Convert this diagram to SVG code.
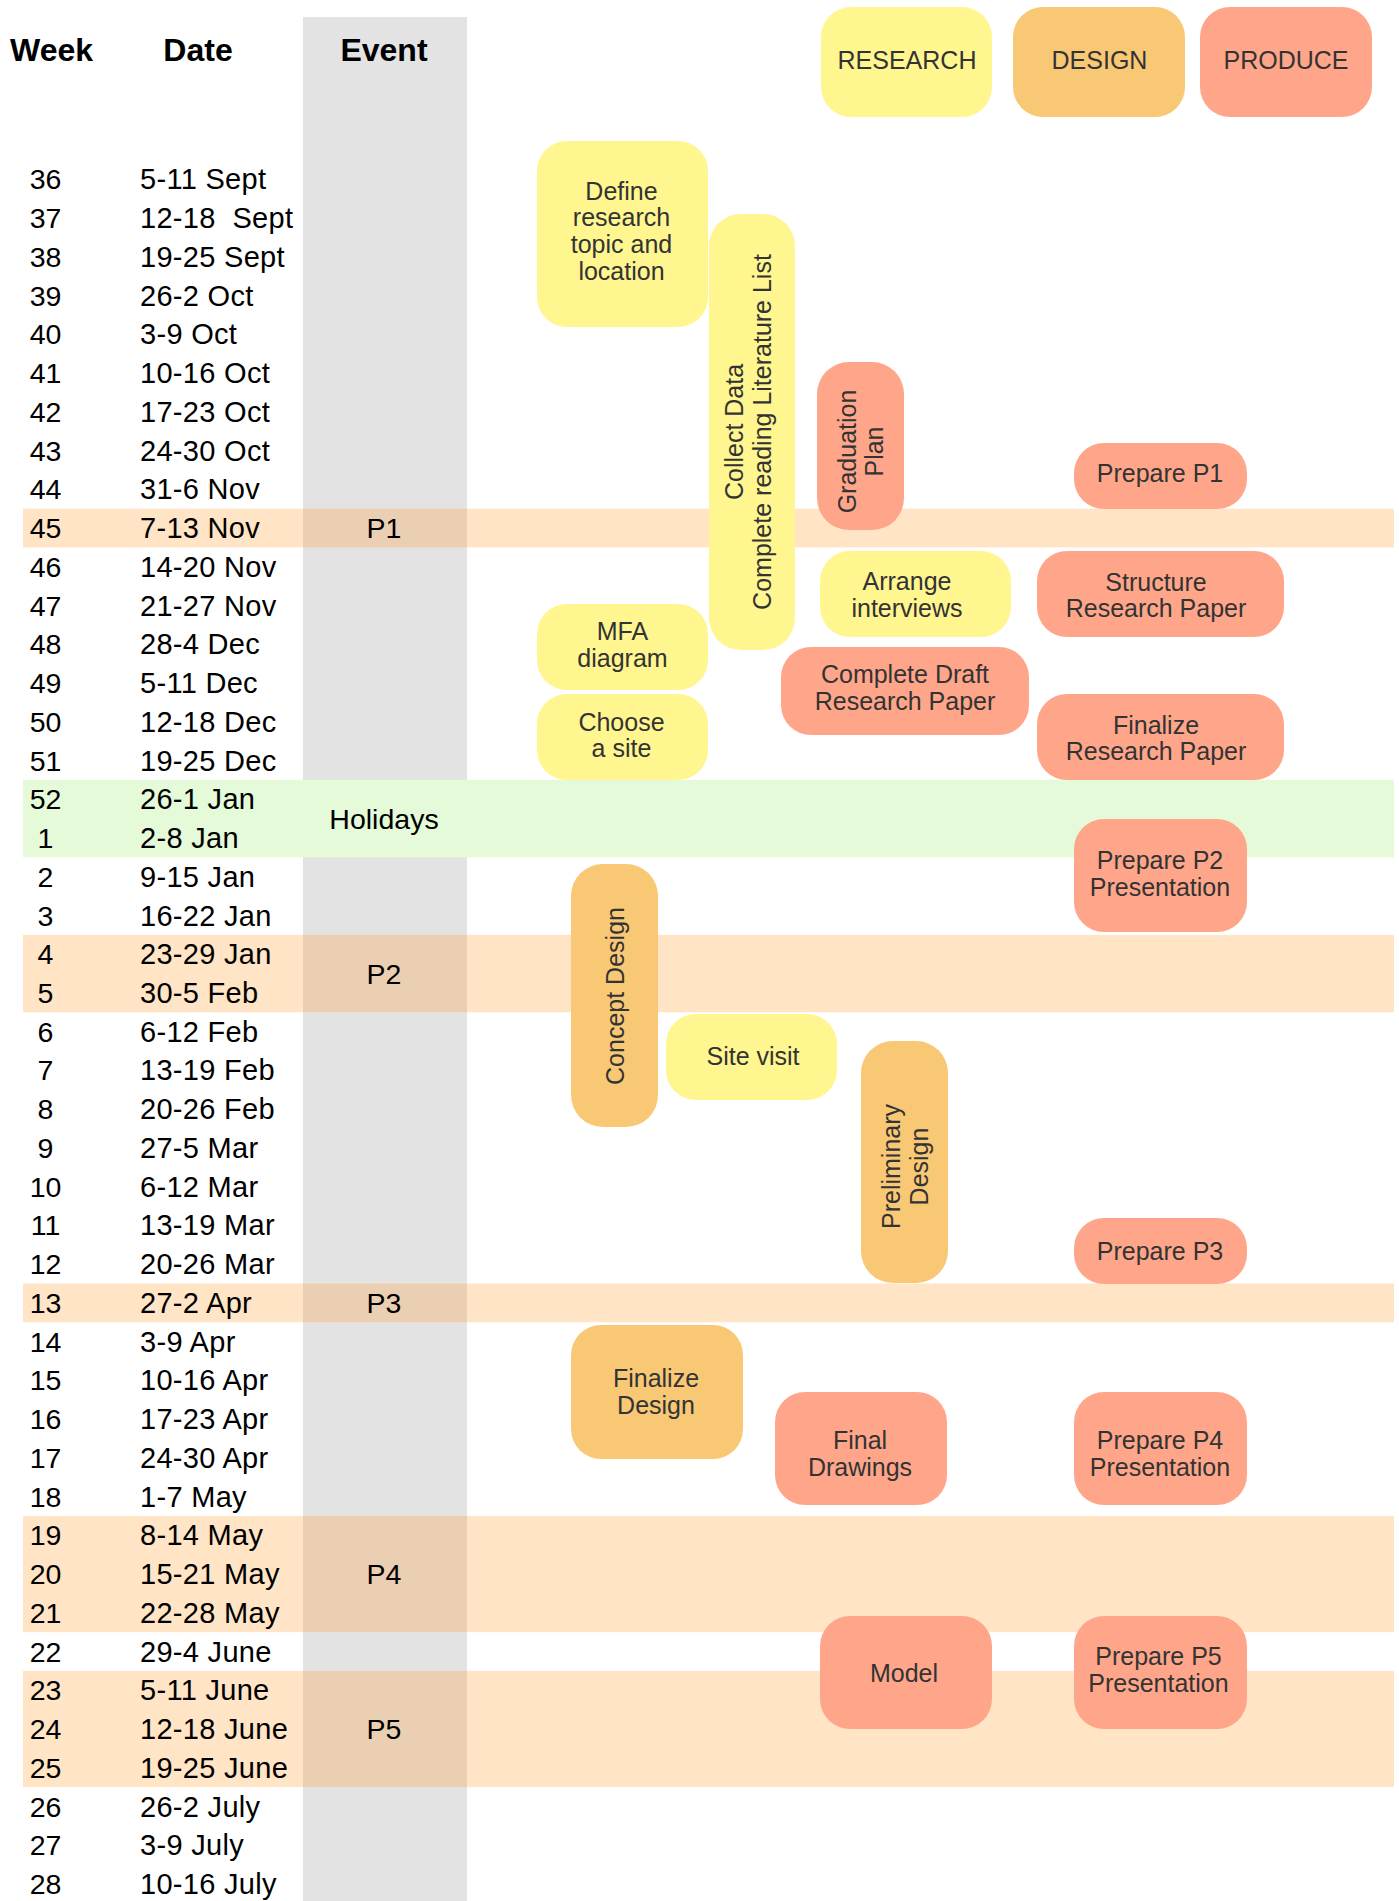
<svg xmlns="http://www.w3.org/2000/svg" width="1399" height="1901" viewBox="0 0 1399 1901">
<style>
.hd{font-family:"Liberation Sans",Arial,sans-serif;font-size:32px;font-weight:bold;fill:#000}
.wk{font-family:"Liberation Sans",Arial,sans-serif;font-size:28.5px;fill:#000;text-anchor:middle}
.dt{font-family:"Liberation Sans",Arial,sans-serif;font-size:29px;letter-spacing:0.3px;fill:#000}
.ev{font-family:"Liberation Sans",Arial,sans-serif;font-size:28.5px;fill:#000;text-anchor:middle}
.lb{font-family:"Liberation Sans",Arial,sans-serif;font-size:25px;fill:#333;text-anchor:middle}
.res{fill:#FFF68F}
.des{fill:#F9C875}
.pro{fill:#FFA68A}
.peach{fill:#FFE4C6}
.peachg{fill:#EBCFB2}
.green{fill:#E4FAD8}
</style>
<rect x="0" y="0" width="1399" height="1901" fill="#FFFFFF"/>
<g id="table-bg">
<rect x="303" y="17" width="164" height="1884" fill="#E3E3E3"/>
<rect class="peach" x="23" y="508.7" width="1371" height="38.74"/>
<rect class="peach" x="23" y="934.8" width="1371" height="77.48"/>
<rect class="peach" x="23" y="1283.5" width="1371" height="38.74"/>
<rect class="peach" x="23" y="1515.9" width="1371" height="116.22"/>
<rect class="peach" x="23" y="1670.9" width="1371" height="116.22"/>
<rect class="peachg" x="303" y="508.7" width="164" height="38.74"/>
<rect class="peachg" x="303" y="934.8" width="164" height="77.48"/>
<rect class="peachg" x="303" y="1283.5" width="164" height="38.74"/>
<rect class="peachg" x="303" y="1515.9" width="164" height="116.22"/>
<rect class="peachg" x="303" y="1670.9" width="164" height="116.22"/>
<rect class="green" x="23" y="779.8" width="1371" height="77.48"/>
</g>
<g id="headers">
<text class="hd" x="10" y="61">Week</text>
<text class="hd" x="198" y="61" text-anchor="middle">Date</text>
<text class="hd" x="384" y="61" text-anchor="middle">Event</text>
</g>
<g id="weeks">
<text class="wk" x="45.5" y="189.4">36</text>
<text class="wk" x="45.5" y="228.1">37</text>
<text class="wk" x="45.5" y="266.9">38</text>
<text class="wk" x="45.5" y="305.6">39</text>
<text class="wk" x="45.5" y="344.4">40</text>
<text class="wk" x="45.5" y="383.1">41</text>
<text class="wk" x="45.5" y="421.8">42</text>
<text class="wk" x="45.5" y="460.6">43</text>
<text class="wk" x="45.5" y="499.3">44</text>
<text class="wk" x="45.5" y="538.1">45</text>
<text class="wk" x="45.5" y="576.8">46</text>
<text class="wk" x="45.5" y="615.5">47</text>
<text class="wk" x="45.5" y="654.3">48</text>
<text class="wk" x="45.5" y="693.0">49</text>
<text class="wk" x="45.5" y="731.8">50</text>
<text class="wk" x="45.5" y="770.5">51</text>
<text class="wk" x="45.5" y="809.2">52</text>
<text class="wk" x="45.5" y="848.0">1</text>
<text class="wk" x="45.5" y="886.7">2</text>
<text class="wk" x="45.5" y="925.5">3</text>
<text class="wk" x="45.5" y="964.2">4</text>
<text class="wk" x="45.5" y="1002.9">5</text>
<text class="wk" x="45.5" y="1041.7">6</text>
<text class="wk" x="45.5" y="1080.4">7</text>
<text class="wk" x="45.5" y="1119.2">8</text>
<text class="wk" x="45.5" y="1157.9">9</text>
<text class="wk" x="45.5" y="1196.6">10</text>
<text class="wk" x="45.5" y="1235.4">11</text>
<text class="wk" x="45.5" y="1274.1">12</text>
<text class="wk" x="45.5" y="1312.9">13</text>
<text class="wk" x="45.5" y="1351.6">14</text>
<text class="wk" x="45.5" y="1390.3">15</text>
<text class="wk" x="45.5" y="1429.1">16</text>
<text class="wk" x="45.5" y="1467.8">17</text>
<text class="wk" x="45.5" y="1506.6">18</text>
<text class="wk" x="45.5" y="1545.3">19</text>
<text class="wk" x="45.5" y="1584.0">20</text>
<text class="wk" x="45.5" y="1622.8">21</text>
<text class="wk" x="45.5" y="1661.5">22</text>
<text class="wk" x="45.5" y="1700.3">23</text>
<text class="wk" x="45.5" y="1739.0">24</text>
<text class="wk" x="45.5" y="1777.7">25</text>
<text class="wk" x="45.5" y="1816.5">26</text>
<text class="wk" x="45.5" y="1855.2">27</text>
<text class="wk" x="45.5" y="1894.0">28</text>
</g>
<g id="dates">
<text class="dt" x="140" y="189.4">5-11 Sept</text>
<text class="dt" x="140" y="228.1" xml:space="preserve">12-18  Sept</text>
<text class="dt" x="140" y="266.9">19-25 Sept</text>
<text class="dt" x="140" y="305.6">26-2 Oct</text>
<text class="dt" x="140" y="344.4">3-9 Oct</text>
<text class="dt" x="140" y="383.1">10-16 Oct</text>
<text class="dt" x="140" y="421.8">17-23 Oct</text>
<text class="dt" x="140" y="460.6">24-30 Oct</text>
<text class="dt" x="140" y="499.3">31-6 Nov</text>
<text class="dt" x="140" y="538.1">7-13 Nov</text>
<text class="dt" x="140" y="576.8">14-20 Nov</text>
<text class="dt" x="140" y="615.5">21-27 Nov</text>
<text class="dt" x="140" y="654.3">28-4 Dec</text>
<text class="dt" x="140" y="693.0">5-11 Dec</text>
<text class="dt" x="140" y="731.8">12-18 Dec</text>
<text class="dt" x="140" y="770.5">19-25 Dec</text>
<text class="dt" x="140" y="809.2">26-1 Jan</text>
<text class="dt" x="140" y="848.0">2-8 Jan</text>
<text class="dt" x="140" y="886.7">9-15 Jan</text>
<text class="dt" x="140" y="925.5">16-22 Jan</text>
<text class="dt" x="140" y="964.2">23-29 Jan</text>
<text class="dt" x="140" y="1002.9">30-5 Feb</text>
<text class="dt" x="140" y="1041.7">6-12 Feb</text>
<text class="dt" x="140" y="1080.4">13-19 Feb</text>
<text class="dt" x="140" y="1119.2">20-26 Feb</text>
<text class="dt" x="140" y="1157.9">27-5 Mar</text>
<text class="dt" x="140" y="1196.6">6-12 Mar</text>
<text class="dt" x="140" y="1235.4">13-19 Mar</text>
<text class="dt" x="140" y="1274.1">20-26 Mar</text>
<text class="dt" x="140" y="1312.9">27-2 Apr</text>
<text class="dt" x="140" y="1351.6">3-9 Apr</text>
<text class="dt" x="140" y="1390.3">10-16 Apr</text>
<text class="dt" x="140" y="1429.1">17-23 Apr</text>
<text class="dt" x="140" y="1467.8">24-30 Apr</text>
<text class="dt" x="140" y="1506.6">1-7 May</text>
<text class="dt" x="140" y="1545.3">8-14 May</text>
<text class="dt" x="140" y="1584.0">15-21 May</text>
<text class="dt" x="140" y="1622.8">22-28 May</text>
<text class="dt" x="140" y="1661.5">29-4 June</text>
<text class="dt" x="140" y="1700.3">5-11 June</text>
<text class="dt" x="140" y="1739.0">12-18 June</text>
<text class="dt" x="140" y="1777.7">19-25 June</text>
<text class="dt" x="140" y="1816.5">26-2 July</text>
<text class="dt" x="140" y="1855.2">3-9 July</text>
<text class="dt" x="140" y="1894.0">10-16 July</text>
</g>
<g id="events">
<text class="ev" x="384" y="538.1">P1</text>
<text class="ev" x="384" y="828.5">Holidays</text>
<text class="ev" x="384" y="983.5">P2</text>
<text class="ev" x="384" y="1312.9">P3</text>
<text class="ev" x="384" y="1584.0">P4</text>
<text class="ev" x="384" y="1739.0">P5</text>
</g>
<g id="connectors"></g>
<g id="legend-research"><rect class="res" x="821" y="7" width="171" height="110" rx="30"/><text class="lb" x="907" y="68.6">RESEARCH</text></g>
<g id="legend-design"><rect class="des" x="1013" y="7" width="172" height="110" rx="30"/><text class="lb" x="1099.5" y="68.6">DESIGN</text></g>
<g id="legend-produce"><rect class="pro" x="1200" y="7" width="172" height="110" rx="30"/><text class="lb" x="1286" y="68.6">PRODUCE</text></g>
<g id="define-research"><rect class="res" x="537" y="141" width="171" height="186" rx="30"/><text class="lb" x="621.5" y="199.5"><tspan x="621.5">Define</tspan><tspan x="621.5" dy="26.7">research</tspan><tspan x="621.5" dy="26.7">topic and</tspan><tspan x="621.5" dy="26.7">location</tspan></text></g>
<g id="collect-data"><rect class="res" x="709" y="214" width="86" height="436" rx="32"/><text class="lb" transform="translate(752 432) rotate(-90)" x="0" y="-9"><tspan x="0">Collect Data</tspan><tspan x="0" dy="28">Complete reading Literature List</tspan></text></g>
<g id="graduation-plan"><rect class="pro" x="817" y="362" width="87" height="168" rx="32"/><text class="lb" transform="translate(860.5 451.5) rotate(-90)" x="0" y="-4.5"><tspan x="0">Graduation</tspan><tspan x="0" dy="26.7">Plan</tspan></text></g>
<g id="prepare-p1"><rect class="pro" x="1074" y="443" width="173" height="66" rx="30"/><text class="lb" x="1160" y="482">Prepare P1</text></g>
<g id="arrange-interviews"><rect class="res" x="820" y="551" width="191" height="86" rx="30"/><text class="lb" x="907" y="590"><tspan x="907">Arrange</tspan><tspan x="907" dy="26.8">interviews</tspan></text></g>
<g id="structure-paper"><rect class="pro" x="1037" y="551" width="247" height="86" rx="30"/><text class="lb" x="1156" y="590.5"><tspan x="1156">Structure</tspan><tspan x="1156" dy="26.5">Research Paper</tspan></text></g>
<g id="mfa-diagram"><rect class="res" x="537" y="604" width="171" height="86" rx="30"/><text class="lb" x="622.5" y="640"><tspan x="622.5">MFA</tspan><tspan x="622.5" dy="26.8">diagram</tspan></text></g>
<g id="complete-draft"><rect class="pro" x="781" y="647" width="248" height="88" rx="30"/><text class="lb" x="905" y="683"><tspan x="905">Complete Draft</tspan><tspan x="905" dy="26.7">Research Paper</tspan></text></g>
<g id="choose-site"><rect class="res" x="537" y="694" width="171" height="86" rx="30"/><text class="lb" x="621.5" y="731"><tspan x="621.5">Choose</tspan><tspan x="621.5" dy="26">a site</tspan></text></g>
<g id="finalize-paper"><rect class="pro" x="1037" y="694" width="247" height="86" rx="30"/><text class="lb" x="1156" y="733.5"><tspan x="1156">Finalize</tspan><tspan x="1156" dy="26.3">Research Paper</tspan></text></g>
<g id="prepare-p2"><rect class="pro" x="1074" y="819" width="173" height="113" rx="30"/><text class="lb" x="1160" y="869.3"><tspan x="1160">Prepare P2</tspan><tspan x="1160" dy="27">Presentation</tspan></text></g>
<g id="concept-design"><rect class="des" x="571" y="864" width="87" height="263" rx="32"/><text class="lb" transform="translate(614.5 996) rotate(-90)" x="0" y="9">Concept Design</text></g>
<g id="site-visit"><rect class="res" x="666" y="1014" width="171" height="86" rx="30"/><text class="lb" x="753" y="1065">Site visit</text></g>
<g id="preliminary-design"><rect class="des" x="861" y="1041" width="87" height="242" rx="32"/><text class="lb" transform="translate(904.5 1166.5) rotate(-90)" x="0" y="-4.5"><tspan x="0">Preliminary</tspan><tspan x="0" dy="28">Design</tspan></text></g>
<g id="prepare-p3"><rect class="pro" x="1074" y="1218" width="173" height="66" rx="30"/><text class="lb" x="1160" y="1260">Prepare P3</text></g>
<g id="finalize-design"><rect class="des" x="571" y="1325" width="172" height="134" rx="30"/><text class="lb" x="656" y="1387"><tspan x="656">Finalize</tspan><tspan x="656" dy="27">Design</tspan></text></g>
<g id="final-drawings"><rect class="pro" x="775" y="1392" width="172" height="113" rx="30"/><text class="lb" x="860" y="1449"><tspan x="860">Final</tspan><tspan x="860" dy="26.6">Drawings</tspan></text></g>
<g id="prepare-p4"><rect class="pro" x="1074" y="1392" width="173" height="113" rx="30"/><text class="lb" x="1160" y="1449"><tspan x="1160">Prepare P4</tspan><tspan x="1160" dy="26.6">Presentation</tspan></text></g>
<g id="model"><rect class="pro" x="820" y="1616" width="172" height="113" rx="30"/><text class="lb" x="904" y="1682">Model</text></g>
<g id="prepare-p5"><rect class="pro" x="1074" y="1616" width="173" height="113" rx="30"/><text class="lb" x="1158.5" y="1664.6"><tspan x="1158.5">Prepare P5</tspan><tspan x="1158.5" dy="27">Presentation</tspan></text></g>
</svg>
